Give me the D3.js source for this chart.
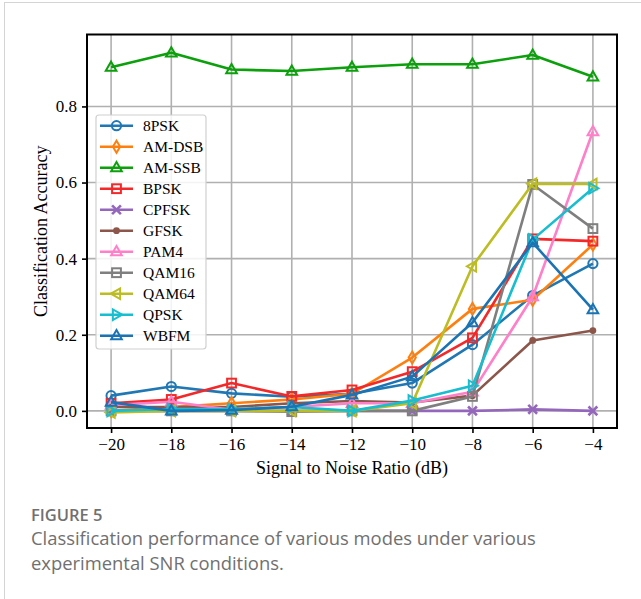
<!DOCTYPE html>
<html>
<head>
<meta charset="utf-8">
<script src="https://cdn.jsdelivr.net/npm/d3@7"></script>
<style>
  body { margin: 0; background: #fff; }
  svg { display: block; }
</style>
</head>
<body>
<div id="chart"></div>
<script>
// SNR values on the x axis
const snr = [-20, -18, -16, -14, -12, -10, -8, -6, -4];

// accuracy per modulation
const acc8PSK  = [0.040, 0.064, 0.046, 0.037, 0.045, 0.073, 0.174, 0.303, 0.387];
const accAMDSB = [0.000, 0.010, 0.020, 0.030, 0.045, 0.140, 0.268, 0.292, 0.437];
const accAMSSB = [0.903, 0.941, 0.897, 0.893, 0.903, 0.911, 0.911, 0.935, 0.878];
const accBPSK  = [0.020, 0.030, 0.073, 0.038, 0.055, 0.103, 0.192, 0.452, 0.446];
const accCPFSK = [0.000, 0.000, 0.000, 0.000, 0.000, 0.000, 0.000, 0.004, 0.000];
const accGFSK  = [0.010, 0.010, 0.010, 0.020, 0.026, 0.022, 0.040, 0.185, 0.211];
const accPAM4  = [0.015, 0.024, 0.003, 0.010, 0.020, 0.020, 0.050, 0.300, 0.734];
const accQAM16 = [0.000, 0.000, 0.000, -0.002, 0.000, 0.000, 0.038, 0.595, 0.479];
const accQAM64 = [-0.004, 0.000, 0.000, 0.000, 0.000, 0.020, 0.380, 0.597, 0.596];
const accQPSK  = [0.000, 0.005, 0.005, 0.010, 0.000, 0.027, 0.066, 0.450, 0.585];
const accWBFM  = [0.023, 0.000, 0.002, 0.011, 0.042, 0.090, 0.232, 0.442, 0.266];

const modNames = ["8PSK", "AM-DSB", "AM-SSB", "BPSK", "CPFSK", "GFSK", "PAM4", "QAM16", "QAM64", "QPSK", "WBFM"];
const modValues = [acc8PSK, accAMDSB, accAMSSB, accBPSK, accCPFSK, accGFSK, accPAM4, accQAM16, accQAM64, accQPSK, accWBFM];
const modColors = ["#1f77b4", "#ff7f0e", "#0ca00c", "#f42828", "#9467bd", "#8c564b", "#ff7fc8", "#7f7f7f", "#bcbd22", "#17becf", "#1a74b4"];
const modMarkers = ["circle", "diamond", "triangle", "square", "cross", "dot", "triangle", "square", "triLeft", "triRight", "triangle"];

const xTicks = [-20, -18, -16, -14, -12, -10, -8, -6, -4];
const yTicks = [0.0, 0.2, 0.4, 0.6, 0.8];

const W = 641, H = 599;
const pLeft = 87, pRight = 617, pTop = 34.5, pBottom = 428;

const svg = d3.select("#chart").append("svg").attr("width", W).attr("height", H);

// card border of the page
svg.append("rect")
  .attr("x", 4.5).attr("y", 2.5).attr("width", 800).attr("height", 800)
  .attr("fill", "#fff").attr("stroke", "#d4d4d4").attr("stroke-width", 1);

const x = d3.scaleLinear().domain([-20.8, -3.2]).range([pLeft, pRight]);
const y = d3.scaleLinear().domain([-0.045, 0.989]).range([pBottom, pTop]);

const serif = "'Liberation Serif', 'Times New Roman', serif";

// grid
const grid = svg.append("g");
grid.selectAll("line.gx").data(xTicks).enter().append("line")
  .attr("x1", d => x(d)).attr("x2", d => x(d))
  .attr("y1", pTop).attr("y2", pBottom)
  .attr("stroke", "#b0b0b0").attr("stroke-width", 1.6);
grid.selectAll("line.gy").data(yTicks).enter().append("line")
  .attr("y1", d => y(d)).attr("y2", d => y(d))
  .attr("x1", pLeft).attr("x2", pRight)
  .attr("stroke", "#b0b0b0").attr("stroke-width", 1.6);

// axes
const xAxis = svg.append("g")
  .attr("transform", "translate(0," + pBottom + ")")
  .call(d3.axisBottom(x).tickValues(xTicks).tickSize(5).tickPadding(5).tickFormat(d3.format("d")));
const yAxis = svg.append("g")
  .attr("transform", "translate(" + pLeft + ",0)")
  .call(d3.axisLeft(y).tickValues(yTicks).tickSize(5).tickPadding(5).tickFormat(d3.format(".1f")));
[xAxis, yAxis].forEach(a => {
  a.select(".domain").remove();
  a.selectAll(".tick line").attr("stroke", "#000").attr("stroke-width", 1.6);
  a.selectAll("text").attr("font-family", serif).attr("font-size", 17).attr("fill", "#000");
});

// marker drawing
function drawMarker(g, type, color, size) {
  const s = size || 1;
  const sw = 2;
  if (type === "circle") {
    g.append("circle").attr("r", 4.6 * s).attr("fill", "none").attr("stroke", color).attr("stroke-width", sw);
  } else if (type === "dot") {
    g.append("circle").attr("r", 3.4 * s).attr("fill", color).attr("stroke", "none");
  } else if (type === "square") {
    g.append("rect").attr("x", -4.4 * s).attr("y", -4.4 * s).attr("width", 8.8 * s).attr("height", 8.8 * s)
      .attr("fill", "none").attr("stroke", color).attr("stroke-width", sw);
  } else if (type === "diamond") {
    const a = 3.6 * s, b = 6 * s;
    g.append("path").attr("d", `M0,${-b}L${a},0L0,${b}L${-a},0Z`)
      .attr("fill", "none").attr("stroke", color).attr("stroke-width", sw);
  } else if (type === "triangle") {
    const r = 5.6 * s;
    g.append("path").attr("d", `M0,${-r}L${r * 0.95},${r * 0.65}L${-r * 0.95},${r * 0.65}Z`)
      .attr("fill", "none").attr("stroke", color).attr("stroke-width", sw);
  } else if (type === "triLeft") {
    const r = 5.6 * s;
    g.append("path").attr("d", `M${-r},0L${r * 0.65},${-r * 0.95}L${r * 0.65},${r * 0.95}Z`)
      .attr("fill", "none").attr("stroke", color).attr("stroke-width", sw);
  } else if (type === "triRight") {
    const r = 5.6 * s;
    g.append("path").attr("d", `M${r},0L${-r * 0.65},${-r * 0.95}L${-r * 0.65},${r * 0.95}Z`)
      .attr("fill", "none").attr("stroke", color).attr("stroke-width", sw);
  } else if (type === "cross") {
    const r = 4.4 * s;
    g.append("path").attr("d", `M${-r},${-r}L${r},${r}M${-r},${r}L${r},${-r}`)
      .attr("fill", "none").attr("stroke", color).attr("stroke-width", 2.6);
  }
}

// series
const line = d3.line().x(d => x(d[0])).y(d => y(d[1]));
const plot = svg.append("g");
modNames.forEach((name, i) => {
  const pts = snr.map((s, j) => [s, modValues[i][j]]);
  const g = plot.append("g");
  g.append("path").datum(pts).attr("d", line)
    .attr("fill", "none").attr("stroke", modColors[i]).attr("stroke-width", 2.6)
    .attr("stroke-linejoin", "round");
  pts.forEach(p => {
    const m = g.append("g").attr("transform", "translate(" + x(p[0]) + "," + y(p[1]) + ")");
    drawMarker(m, modMarkers[i], modColors[i]);
  });
});

// frame
svg.append("rect")
  .attr("x", pLeft).attr("y", pTop).attr("width", pRight - pLeft).attr("height", pBottom - pTop)
  .attr("fill", "none").attr("stroke", "#000").attr("stroke-width", 2);

// axis labels
svg.append("text")
  .attr("x", (pLeft + pRight) / 2).attr("y", 474)
  .attr("text-anchor", "middle").attr("font-family", serif).attr("font-size", 18)
  .text("Signal to Noise Ratio (dB)");
svg.append("text")
  .attr("transform", "translate(47," + ((pTop + pBottom) / 2) + ") rotate(-90)")
  .attr("text-anchor", "middle").attr("font-family", serif).attr("font-size", 18)
  .text("Classification Accuracy");

// legend
const legend = svg.append("g");
legend.append("rect")
  .attr("x", 96).attr("y", 115).attr("width", 110).attr("height", 234)
  .attr("rx", 3).attr("fill", "#fff").attr("fill-opacity", 0.85)
  .attr("stroke", "#d0d0d0").attr("stroke-width", 1.2);
modNames.forEach((name, i) => {
  const ly = 125.7 + i * 21;
  const row = legend.append("g");
  row.append("line").attr("x1", 100).attr("x2", 133).attr("y1", ly).attr("y2", ly)
    .attr("stroke", modColors[i]).attr("stroke-width", 2.6);
  drawMarker(row.append("g").attr("transform", "translate(116.5," + ly + ")"), modMarkers[i], modColors[i]);
  row.append("text").attr("x", 143).attr("y", ly + 5.2)
    .attr("font-family", serif).attr("font-size", 15.5).text(name);
});

// caption
const cap = "'Open Sans', 'Noto Sans', sans-serif";
svg.append("text").attr("x", 31).attr("y", 521)
  .attr("font-family", cap).attr("font-size", 16.5).attr("font-weight", 600).attr("fill", "#707070")
  .text("FIGURE 5");
svg.append("text").attr("x", 31).attr("y", 545)
  .attr("font-family", cap).attr("font-size", 18.4).attr("fill", "#707070")
  .text("Classification performance of various modes under various");
svg.append("text").attr("x", 31).attr("y", 570)
  .attr("font-family", cap).attr("font-size", 18.4).attr("fill", "#707070")
  .text("experimental SNR conditions.");
</script>
</body>
</html>
